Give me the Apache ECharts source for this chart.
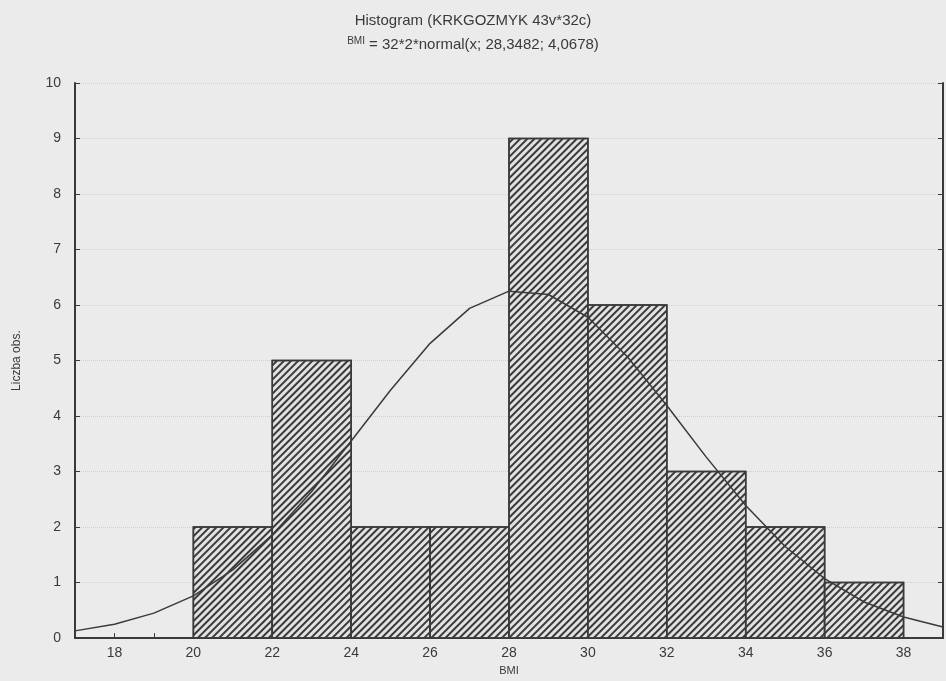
<!DOCTYPE html>
<html>
<head>
<meta charset="utf-8">
<script src="https://cdn.jsdelivr.net/npm/echarts@6/dist/echarts.min.js"></script>
<style>html,body{margin:0;background:#ebebeb}#c{width:946px;height:681px}</style>
</head>
<body>
<div id="c"></div>
<script>
// histogram bins (BMI) and counts
var binStart = [20, 22, 24, 26, 28, 30, 32, 34, 36];
var binEnd   = [22, 24, 26, 28, 30, 32, 34, 36, 38];
var counts   = [2, 5, 2, 2, 9, 6, 3, 2, 1];
// fitted normal curve
var curveX = [17, 18, 19, 20, 21, 22, 23, 24, 25, 26, 27, 28, 29, 30, 31, 32, 33, 34, 35, 36, 37, 38, 39];
var curveY = [0.13, 0.25, 0.45, 0.76, 1.23, 1.86, 2.64, 3.55, 4.47, 5.31, 5.94, 6.25, 6.19, 5.78, 5.07, 4.19, 3.26, 2.39, 1.65, 1.07, 0.65, 0.38, 0.2];

var chart = echarts.init(document.getElementById('c'));
var bars = binStart.map(function (s, i) { return [s, binEnd[i], counts[i]]; });
var curve = curveX.map(function (x, i) { return [x, curveY[i]]; });
var ink = '#3a3a3a';
var hatch = {symbol: 'rect', symbolSize: 1, dashArrayX: [1, 0], dashArrayY: [1.2, 2.8], rotation: -Math.PI / 4, color: '#3a3a3a'};

chart.setOption({
    backgroundColor: '#ebebeb',
    textStyle: {fontFamily: 'Liberation Sans'},
    title: {
        text: 'Histogram (KRKGOZMYK 43v*32c)',
        subtext: '{s|BMI} = 32*2*normal(x; 28,3482; 4,0678)',
        left: 'center', top: 8, itemGap: 8,
        textStyle: {fontSize: 15, fontWeight: 'normal', color: ink},
        subtextStyle: {fontSize: 15, color: ink, rich: {s: {fontSize: 10, color: ink, verticalAlign: 'top', padding: [0, 0, 8, 0]}}}
    },
    grid: {left: 75, right: 1, top: 83, bottom: 31},
    xAxis: {
        type: 'value', min: 17, max: 39, interval: 1,
        name: 'BMI', nameLocation: 'middle', nameGap: 22,
        nameTextStyle: {fontSize: 11, color: ink},
        axisLine: {lineStyle: {color: ink, width: 2}},
        axisTick: {inside: true, length: 5, lineStyle: {color: ink}},
        axisLabel: {fontSize: 14, color: ink, formatter: function (v) { return v % 2 === 0 ? v : ''; }},
        splitLine: {show: false}
    },
    yAxis: [{
        type: 'value', min: 0, max: 10, interval: 1,
        name: 'Liczba obs.', nameLocation: 'middle', nameGap: 52,
        nameTextStyle: {fontSize: 12, color: ink},
        axisLine: {show: true, lineStyle: {color: ink, width: 2}},
        axisTick: {show: true, inside: true, length: 5, lineStyle: {color: ink}},
        axisLabel: {fontSize: 14, color: ink, margin: 14},
        splitLine: {show: true, lineStyle: {color: '#cfcfcf', type: 'dotted'}}
    }, {
        type: 'value', min: 0, max: 10, interval: 1, position: 'right',
        axisLine: {show: true, lineStyle: {color: ink, width: 2}},
        axisTick: {show: true, inside: true, length: 5, lineStyle: {color: ink}},
        axisLabel: {show: false}, splitLine: {show: false}
    }],
    series: [
        {
            type: 'custom',
            data: bars,
            renderItem: function (params, api) {
                var p0 = api.coord([api.value(0), api.value(2)]);
                var p1 = api.coord([api.value(1), 0]);
                return {
                    type: 'rect',
                    shape: {x: p0[0], y: p0[1], width: p1[0] - p0[0], height: p1[1] - p0[1]},
                    style: {fill: '#e2e2e2', stroke: ink, lineWidth: 1.5, decal: hatch}
                };
            },
            itemStyle: {decal: hatch},
            z: 2
        },
        {
            type: 'line', data: curve, smooth: false, symbol: 'none',
            lineStyle: {color: ink, width: 1.5}, z: 3
        }
    ]
});
</script>
</body>
</html>
